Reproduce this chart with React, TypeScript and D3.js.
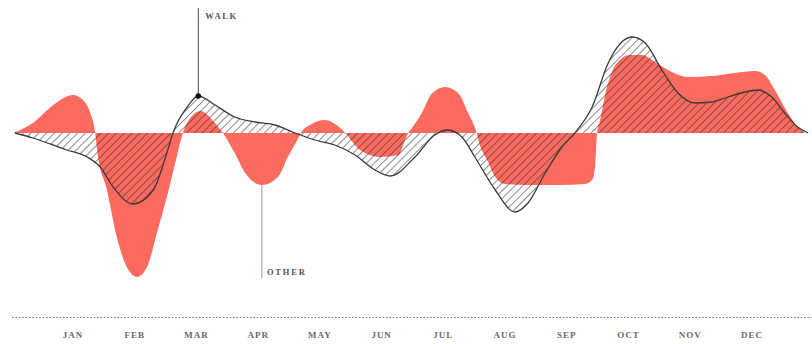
import React from 'react';
import * as d3 from 'd3';

const MONTHS = ['JAN', 'FEB', 'MAR', 'APR', 'MAY', 'JUN', 'JUL', 'AUG', 'SEP', 'OCT', 'NOV', 'DEC'];

// WALK series: position in months (0 = JAN) and value
const walkMonth = [-0.94, -0.65, -0.10, 0.23, 0.44, 0.65, 0.97, 1.30, 1.52, 1.62, 1.85, 2.03, 2.30, 2.62, 2.95, 3.27, 3.60, 3.92, 4.24, 4.57, 4.89, 5.14, 5.54, 5.86, 6.07, 6.30, 6.51, 6.84, 7.16, 7.37, 7.65, 7.92, 8.13, 8.41, 8.67, 8.89, 9.06, 9.27, 9.54, 9.80, 10.08, 10.35, 10.61, 10.89, 11.10, 11.32, 11.53, 11.74, 11.91];
const walkValue = [0, -5, -17, -24, -34, -54, -71, -57, -20, 0, 26, 37, 28, 16, 11, 8, 0, -7, -12, -22, -37, -43, -24, -2, 3, -4, -24, -57, -79, -70, -40, -14, 0, 26, 70, 91, 96, 90, 63, 40, 30, 31, 36, 41, 43, 36, 20, 6, 0];

// OTHER series
const otherMonth = [-0.97, -0.65, -0.32, 0, 0.16, 0.28, 0.36, 0.39, 0.55, 0.71, 0.87, 1.04, 1.20, 1.36, 1.52, 1.68, 1.78, 1.90, 2.06, 2.30, 2.43, 2.62, 2.79, 3.06, 3.32, 3.48, 3.65, 3.69, 3.87, 4.08, 4.29, 4.41, 4.65, 4.97, 5.27, 5.38, 5.43, 5.49, 5.65, 5.82, 6.03, 6.24, 6.40, 6.54, 6.59, 6.71, 6.84, 7.0, 7.40, 7.89, 8.29, 8.41, 8.46, 8.49, 8.54, 8.62, 8.73, 8.86, 9.02, 9.22, 9.43, 9.70, 9.96, 10.35, 10.72, 11.05, 11.21, 11.37, 11.58, 11.74, 11.86];
const otherValue = [0, 10, 28, 38, 33, 20, 0, -17, -57, -104, -134, -144, -134, -100, -64, -24, 0, 15, 22, 10, 0, -20, -40, -52, -44, -24, -5, 0, 9, 13, 7, 0, -17, -24, -22, -7, 0, 5, 20, 40, 46, 40, 20, 0, -12, -27, -44, -51, -52, -52, -51, -47, -32, 0, 13, 38, 61, 73, 78, 78, 71, 61, 56, 57, 60, 62, 58, 43, 20, 6, 0];

const WALK_LABEL = 'WALK';
const OTHER_LABEL = 'OTHER';
const walkAnnotIndex = 11;
const otherAnnotIndex = 23;

const W = 812;
const H = 344;

export default function App() {
  const x = d3.scaleLinear().domain([0, 11]).range([73, 752]);
  const y = d3.scaleLinear().domain([-150, 100]).range([283, 33]);

  const walk = walkMonth.map((m, i) => [m, walkValue[i]] as [number, number]);
  const other = otherMonth.map((m, i) => [m, otherValue[i]] as [number, number]);

  const area = d3.area<[number, number]>()
    .x(d => x(d[0]))
    .y0(y(0))
    .y1(d => y(d[1]))
    .curve(d3.curveMonotoneX);
  const line = d3.line<[number, number]>()
    .x(d => x(d[0]))
    .y(d => y(d[1]))
    .curve(d3.curveMonotoneX);

  const wa = walk[walkAnnotIndex];
  const oa = other[otherAnnotIndex];
  const labelFont = "'Liberation Serif', 'DejaVu Serif', serif";

  return (
    <svg width={W} height={H} style={{ position: 'fixed', left: 0, top: 0, background: '#fff' }}>
      <defs>
        <pattern id="hatch" patternUnits="userSpaceOnUse" width={5.5} height={5.5} patternTransform="rotate(45)">
          <line x1={0.5} y1={0} x2={0.5} y2={5.5} stroke="#2a2a2a" strokeOpacity={0.55} strokeWidth={1} />
        </pattern>
      </defs>
      <path d={area(other) || ''} fill="#fd6a60" />
      <path d={area(walk) || ''} fill="url(#hatch)" />
      <path d={line(walk) || ''} fill="none" stroke="#3a3a3a" strokeWidth={1.3} />

      {/* WALK annotation */}
      <line x1={x(wa[0])} x2={x(wa[0])} y1={y(wa[1])} y2={8} stroke="#444" strokeWidth={1} />
      <circle cx={x(wa[0])} cy={y(wa[1])} r={2.8} fill="#111" />
      <text x={x(wa[0]) + 7} y={19} fontFamily={labelFont} fontSize={8.5} fontWeight="bold" letterSpacing={1.6} fill="#555">{WALK_LABEL}</text>

      {/* OTHER annotation */}
      <line x1={x(oa[0])} x2={x(oa[0])} y1={y(oa[1])} y2={278} stroke="#999" strokeWidth={1} />
      <text x={x(oa[0]) + 5} y={275} fontFamily={labelFont} fontSize={8.5} fontWeight="bold" letterSpacing={1.8} fill="#555">{OTHER_LABEL}</text>

      {/* axis */}
      <line x1={12} x2={812} y1={317.5} y2={317.5} stroke="#777" strokeWidth={1.2} strokeDasharray="1.6,1.8" />
      {MONTHS.map((m, i) => (
        <text key={m} x={x(i)} y={338} textAnchor="middle" fontFamily={labelFont} fontSize={9} fontWeight="bold" letterSpacing={1} fill="#6a6a6a">{m}</text>
      ))}
    </svg>
  );
}
